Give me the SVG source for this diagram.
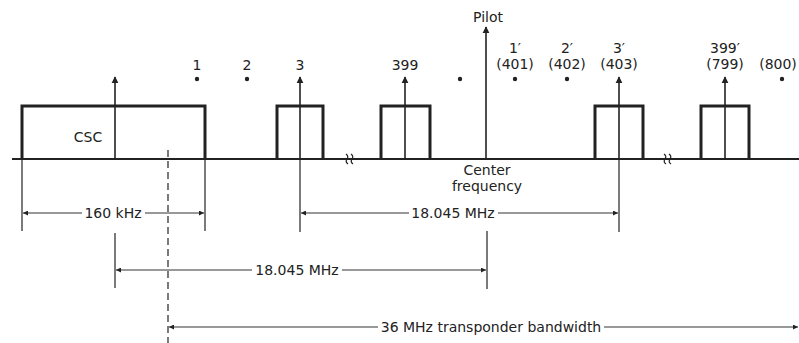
<svg xmlns="http://www.w3.org/2000/svg" width="799" height="343" viewBox="0 0 799 343">
<defs>
<marker id="ah" viewBox="0 0 10 10" refX="9" refY="5" markerWidth="7" markerHeight="9" markerUnits="userSpaceOnUse" orient="auto"><path d="M0,0 L10,5 L0,10 z" fill="#222"/></marker>
<marker id="dh" viewBox="0 0 10 10" refX="10" refY="5" markerWidth="9" markerHeight="5" markerUnits="userSpaceOnUse" orient="auto"><path d="M0,0 L10,5 L0,10 z" fill="#222"/></marker>
</defs>
<style>
text{font-family:"DejaVu Sans","Liberation Sans",sans-serif;font-size:14px;fill:#222;text-anchor:middle}
.box{fill:none;stroke:#222;stroke-width:3}
.car{stroke:#222;stroke-width:1.6;marker-end:url(#ah)}
.ext{stroke:#333;stroke-width:1.3}
.dim{stroke:#333;stroke-width:1;fill:none}
.dot{fill:#222}
</style>
<rect width="799" height="343" fill="#fff"/>
<g id="axis">
<line x1="12" y1="159" x2="799" y2="159" stroke="#222" stroke-width="2"/>
<path d="M346,154 q3,2 1,5 q-2,3 1,5 M351,154 q3,2 1,5 q-2,3 1,5" fill="none" stroke="#222" stroke-width="1.2"/>
<path d="M664,154 q3,2 1,5 q-2,3 1,5 M669,154 q3,2 1,5 q-2,3 1,5" fill="none" stroke="#222" stroke-width="1.2"/>
</g>
<g id="csc">
<path class="box" d="M22,159 V106 H205 V159"/>
<line class="car" x1="115" y1="159" x2="115" y2="77"/>
<text x="88" y="142">CSC</text>
</g>
<g id="ch1"><text x="197" y="70">1</text><circle class="dot" cx="197" cy="79" r="2.2"/></g>
<g id="ch2"><text x="247" y="70">2</text><circle class="dot" cx="247" cy="79" r="2.2"/></g>
<g id="ch3">
<text x="300" y="70">3</text>
<path class="box" d="M277,159 V106 H323 V159"/>
<line class="car" x1="300" y1="159" x2="300" y2="77"/>
</g>
<g id="ch399">
<text x="405" y="70">399</text>
<path class="box" d="M381,159 V106 H430 V159"/>
<line class="car" x1="405" y1="159" x2="405" y2="77"/>
</g>
<g id="ch400"><circle class="dot" cx="460" cy="79" r="2.2"/></g>
<g id="pilot">
<text x="488" y="22">Pilot</text>
<line class="car" x1="486" y1="159" x2="486" y2="27"/>
<text x="487" y="175">Center</text>
<text x="487" y="191">frequency</text>
</g>
<g id="ch401"><text x="515" y="53">1′</text><text x="515" y="69">(401)</text><circle class="dot" cx="515" cy="79" r="2.2"/></g>
<g id="ch402"><text x="567" y="53">2′</text><text x="567" y="69">(402)</text><circle class="dot" cx="567" cy="79" r="2.2"/></g>
<g id="ch403">
<text x="619" y="53">3′</text><text x="619" y="69">(403)</text>
<path class="box" d="M595,159 V106 H643 V159"/>
<line class="car" x1="619" y1="159" x2="619" y2="77"/>
</g>
<g id="ch799">
<text x="725" y="53">399′</text><text x="725" y="69">(799)</text>
<path class="box" d="M701,159 V106 H749 V159"/>
<line class="car" x1="725" y1="159" x2="725" y2="77"/>
</g>
<g id="ch800"><text x="778" y="69">(800)</text><circle class="dot" cx="782" cy="79" r="2.2"/></g>
<g id="connectors">
<line class="ext" x1="22" y1="160" x2="22" y2="231"/>
<line class="ext" x1="205" y1="160" x2="205" y2="231"/>
<line class="ext" x1="300" y1="160" x2="300" y2="232"/>
<line class="ext" x1="619" y1="160" x2="619" y2="232"/>
<line class="ext" x1="115" y1="233" x2="115" y2="288"/>
<line class="ext" x1="487" y1="231" x2="487" y2="289"/>
<line x1="168" y1="150" x2="168" y2="343" stroke="#333" stroke-width="1.3" stroke-dasharray="7,4"/>
<path class="dim" d="M82,213 H23" marker-end="url(#dh)"/>
<path class="dim" d="M145,213 H204" marker-end="url(#dh)"/>
<text x="113" y="218">160 kHz</text>
<path class="dim" d="M409,213 H301" marker-end="url(#dh)"/>
<path class="dim" d="M498,213 H618" marker-end="url(#dh)"/>
<text x="453" y="218">18.045 MHz</text>
<path class="dim" d="M252,270 H116" marker-end="url(#dh)"/>
<path class="dim" d="M342,270 H486" marker-end="url(#dh)"/>
<text x="297" y="275">18.045 MHz</text>
<path class="dim" d="M378,327 H169" marker-end="url(#dh)"/>
<path class="dim" d="M604,327 H798" marker-end="url(#dh)"/>
<text x="491" y="332">36 MHz transponder bandwidth</text>
</g>
</svg>
